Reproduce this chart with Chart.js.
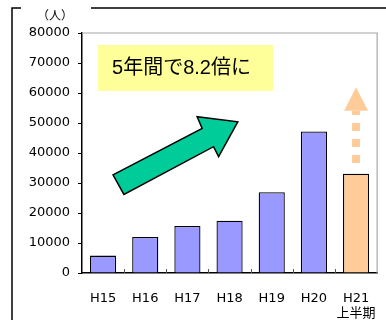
<!DOCTYPE html>
<html>
<head>
<meta charset="utf-8">
<script src="https://cdn.jsdelivr.net/npm/chart.js@4"></script>
<style>
  html, body { margin: 0; padding: 0; background: #fff; }
  #wrap { width: 386px; height: 320px; }
</style>
</head>
<body>
<div id="wrap"><canvas id="chartID"></canvas></div>
<script>
var years = ['H15', 'H16', 'H17', 'H18', 'H19', 'H20', ['H21', '上半期']];
var people = [5800, 12000, 15700, 17400, 26900, 47200, 33100];
var barColors = ['#9999FF', '#9999FF', '#9999FF', '#9999FF', '#9999FF', '#9999FF', '#FFCC99'];
var yTicks = [0, 10000, 20000, 30000, 40000, 50000, 60000, 70000, 80000];
var note = '5年間で8.2倍に';
var unit = '（人）';

var FONT = '"DejaVu Sans", "Noto Sans CJK JP", sans-serif';
var NOTE_FONT = '"Liberation Sans", "Noto Sans CJK JP", sans-serif';

// green arrow outline, in (category index, value)
var greenArrow = [[0.235, 32700], [2.35, 48200], [2.23, 52100], [3.195, 50400],
                  [2.74, 38800], [2.62, 42100], [0.494, 26200]];
// yellow note box, in (category index, value)
var noteBox = { x0: -0.12, x1: 4.03, y0: 76000, y1: 60700 };

var extras = {
  id: 'extras',
  beforeDatasetsDraw: function (chart) {
    var c = chart.ctx, a = chart.chartArea;
    var xs = chart.scales.x;
    c.save();
    // outer frame
    c.strokeStyle = '#000';
    c.lineWidth = 1.5;
    c.beginPath();
    c.moveTo(21, 8); c.lineTo(12, 8); c.lineTo(12, 320);
    c.moveTo(91, 8); c.lineTo(386, 8);
    c.stroke();
    // plot area top/right border
    c.strokeStyle = '#a6a6a6';
    c.lineWidth = 1.2;
    c.beginPath();
    c.moveTo(a.left, a.top); c.lineTo(a.right, a.top); c.lineTo(a.right, a.bottom);
    c.stroke();
    // x ticks between categories, pointing up
    var step = xs.getPixelForValue(1) - xs.getPixelForValue(0);
    c.strokeStyle = '#555';
    c.lineWidth = 1;
    c.beginPath();
    for (var i = 1; i < years.length; i++) {
      var px = Math.round(xs.getPixelForValue(i) - step / 2) + 0.5;
      c.moveTo(px, a.bottom); c.lineTo(px, a.bottom - 4);
    }
    c.stroke();
    // unit label
    c.fillStyle = '#000';
    c.font = '12px ' + FONT;
    c.textAlign = 'center';
    c.textBaseline = 'middle';
    c.fillText(unit, 55, 17);
    c.restore();
  },
  afterDatasetsDraw: function (chart) {
    var c = chart.ctx;
    var xs = chart.scales.x, ys = chart.scales.y;
    c.save();
    // yellow box + text
    var bx0 = xs.getPixelForValue(noteBox.x0), bx1 = xs.getPixelForValue(noteBox.x1);
    var by0 = ys.getPixelForValue(noteBox.y0), by1 = ys.getPixelForValue(noteBox.y1);
    c.fillStyle = '#FFFF99';
    c.fillRect(bx0, by0, bx1 - bx0, by1 - by0);
    c.fillStyle = '#000';
    c.font = '20px ' + NOTE_FONT;
    c.textAlign = 'left';
    c.textBaseline = 'middle';
    c.fillText(note, bx0 + 14, (by0 + by1) / 2 + 1);
    // green arrow
    c.beginPath();
    greenArrow.forEach(function (p, k) {
      var px = xs.getPixelForValue(p[0]), py = ys.getPixelForValue(p[1]);
      if (k === 0) c.moveTo(px, py); else c.lineTo(px, py);
    });
    c.closePath();
    c.fillStyle = '#00CC99';
    c.fill();
    c.strokeStyle = '#000';
    c.lineWidth = 1.5;
    c.lineJoin = 'miter';
    c.stroke();
    // dashed orange arrow above the last bar
    var last = people.length - 1;
    var ax = xs.getPixelForValue(last);
    var barTop = ys.getPixelForValue(people[last]);
    var headBase = ys.getPixelForValue(54100);
    var tip = ys.getPixelForValue(61900);
    c.strokeStyle = '#FFCC99';
    c.lineWidth = 8;
    c.lineCap = 'butt';
    c.setLineDash([8, 8]);
    c.beginPath();
    c.moveTo(ax, barTop - 10.6);
    c.lineTo(ax, headBase);
    c.stroke();
    c.setLineDash([]);
    c.fillStyle = '#FFCC99';
    c.beginPath();
    c.moveTo(ax - 12, headBase);
    c.lineTo(ax, tip);
    c.lineTo(ax + 12, headBase);
    c.closePath();
    c.fill();
    c.restore();
  }
};

var myChart = new Chart(document.getElementById('chartID').getContext('2d'), {
  type: 'bar',
  data: {
    labels: years,
    datasets: [{
      data: people,
      backgroundColor: barColors,
      borderColor: '#000',
      borderWidth: 1.3,
      borderSkipped: 'bottom',
      barPercentage: 0.62,
      categoryPercentage: 1.0
    }]
  },
  options: {
    responsive: true,
    maintainAspectRatio: false,
    animation: false,
    layout: { padding: { left: 0, right: 6, top: 33, bottom: 0 } },
    plugins: {
      legend: { display: false },
      tooltip: { enabled: false }
    },
    scales: {
      x: {
        grid: { display: false },
        border: { color: '#000', width: 1.5 },
        ticks: { color: '#000', font: { family: FONT, size: 13, lineHeight: 1.15 }, padding: 10, maxRotation: 0, autoSkip: false },
        afterFit: function (s) { s.height = 47; }
      },
      y: {
        min: 0,
        max: 80000,
        afterBuildTicks: function (s) { s.ticks = yTicks.map(function (v) { return { value: v }; }); },
        grid: { drawOnChartArea: false, drawTicks: true, tickLength: 4, color: '#000' },
        border: { color: '#000', width: 1.5 },
        ticks: {
          color: '#000', font: { family: FONT, size: 13 }, padding: 8,
          callback: function (v) { return String(v); }
        },
        afterFit: function (s) { s.width = 82; }
      }
    }
  },
  plugins: [extras]
});
</script>
</body>
</html>
